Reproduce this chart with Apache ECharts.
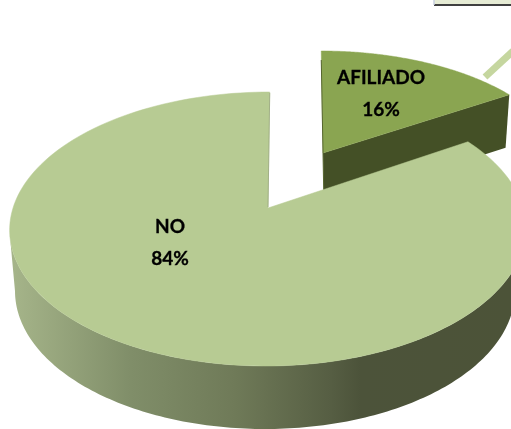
<!DOCTYPE html>
<html><head><meta charset="utf-8">
<style>html,body{margin:0;padding:0;background:#fff}#c{width:511px;height:429px}</style>
<script src="https://cdn.jsdelivr.net/npm/echarts@6/dist/echarts.min.js"></script>
</head><body><div id="c"></div>
<script>
const categories = ['AFILIADO', 'NO'];
const shareValues = [16, 84];
const sliceColors = ['#8aa551', '#b7cb93'];
const total = shareValues.reduce((a, b) => a + b, 0);
const TILT = 0.1533;
function project(frac, g) {
  const t = frac * 2 * Math.PI, u = Math.sin(t), v = Math.cos(t), w = 1 + TILT * v;
  return [g.cx + (g.px * u + g.lean * v) / w, g.cy - g.py * v / w];
}
function rimPoint(frac, r) {
  const t = frac * 2 * Math.PI;
  return [r.cx + r.a * Math.sin(t), r.cy - r.b * Math.cos(t)];
}
function arc(a, b, fn, g) {
  const pts = [], n = 160;
  for (let i = 0; i <= n; i++) pts.push(fn(a + (b - a) * i / n, g));
  return pts;
}
const sliceTop = {cx: 323, cy: 153, px: 240, py: 102 * 1.1533, lean: -2};
const sliceBottom = {cx: 324, cy: 206, px: 234, py: 102 * 1.1533, lean: -2};
const mainTop = {cx: 268, cy: 208, px: 255, py: 116 * 1.1533, lean: 2};
const mainRim = {cx: 265, cy: 291, a: 250, b: 138};
const sideFill = new echarts.graphic.LinearGradient(10, 0, 511, 0, [
  {offset: 0, color: '#a6b58a'}, {offset: 0.24, color: '#808e69'},
  {offset: 0.45, color: '#6f7a58'}, {offset: 0.64, color: '#565e43'},
  {offset: 0.70, color: '#4c533a'}, {offset: 1, color: '#4c5338'}
], true);
function renderItem(params, api) {
  const i = params.dataIndex, val = api.value(1);
  let start = 0;
  for (let k = 0; k < i; k++) start += shareValues[k] / total;
  const end = start + val / total, children = [];
  if (i === 0) {
    const g = sliceTop, e = project(end, g), be = project(end, sliceBottom);
    const s = project(start, g);
    children.push({type: 'polygon', shape: {points: [[g.cx, g.cy], e, be, [sliceBottom.cx, sliceBottom.cy]]}, style: {fill: '#445026'}});
    children.push({type: 'polygon', shape: {points: [[g.cx, g.cy]].concat(arc(start, end, project, g))}, style: {fill: sliceColors[i], stroke: sliceColors[i], lineWidth: 0.5}});
    children.push({type: 'line', shape: {x1: s[0], y1: 60, x2: sliceBottom.cx, y2: sliceBottom.cy}, style: {stroke: '#56662f', lineWidth: 1}});
  } else {
    const g = mainTop, e = project(end, g);
    const a = Math.max(start, 0.25), b = Math.min(end, 0.75);
    children.push({type: 'polygon', shape: {points: arc(a + 0.03, b - 0.03, project, g).concat(arc(a, b, rimPoint, mainRim).reverse())}, style: {fill: sideFill}});
    children.push({type: 'polygon', shape: {points: [[g.cx, g.cy]].concat(arc(start, end, project, g))}, style: {fill: sliceColors[i], stroke: sliceColors[i], lineWidth: 0.5}});
    children.push({type: 'line', shape: {x1: e[0], y1: e[1] + 1, x2: g.cx, y2: g.cy - 1}, style: {stroke: '#98a67e', lineWidth: 0.8}});
  }
  return {type: 'group', children};
}
const chart = echarts.init(document.getElementById('c'), null, {renderer: 'canvas'});
const labelFont = {fontFamily: 'Lato', fontWeight: 'bold', fontSize: 19, fill: '#000', stroke: '#000', lineWidth: 0.3, textAlign: 'center', textVerticalAlign: 'middle'};
chart.setOption({
  animation: false, backgroundColor: '#fff',
  series: [{
    type: 'custom', coordinateSystem: 'none', renderItem,
    data: categories.map((c, i) => [c, shareValues[i]]),
    silent: true
  }],
  graphic: [
    {type: 'rect', z: 10, shape: {x: 434, y: 0, width: 77, height: 4}, style: {fill: '#e6ecd5'}},
    {type: 'line', z: 10, shape: {x1: 434, y1: 5, x2: 511, y2: 5}, style: {stroke: '#000', lineWidth: 1.5}},
    {type: 'line', z: 10, shape: {x1: 434, y1: 0, x2: 434, y2: 5}, style: {stroke: '#c8d0e0', lineWidth: 1.5}},
    {type: 'line', z: 10, shape: {x1: 485, y1: 77, x2: 513, y2: 51}, style: {stroke: '#c5d69f', lineWidth: 7}},
    {type: 'text', z: 10, x: 381, y: 78, style: Object.assign({text: categories[0]}, labelFont)},
    {type: 'text', z: 10, x: 381, y: 110, style: Object.assign({text: shareValues[0] + '%'}, labelFont)},
    {type: 'text', z: 10, x: 170, y: 227, style: Object.assign({text: categories[1]}, labelFont)},
    {type: 'text', z: 10, x: 170, y: 259, style: Object.assign({text: shareValues[1] + '%'}, labelFont)}
  ]
});
</script></body></html>
